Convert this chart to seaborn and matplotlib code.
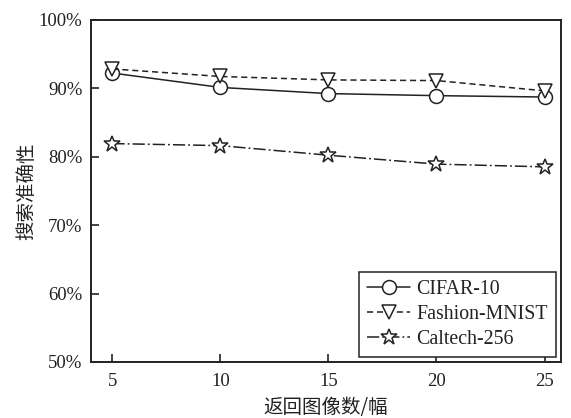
import matplotlib
matplotlib.use("Agg")
import matplotlib.pyplot as plt
import seaborn as sns
import pandas as pd
from matplotlib.ticker import FuncFormatter

# Retrieval accuracy (%) versus number of returned images
returned = [5, 10, 15, 20, 25]
cifar10 = [92.2, 90.1, 89.2, 88.9, 88.7]
fashion_mnist = [92.8, 91.7, 91.2, 91.1, 89.6]
caltech256 = [81.9, 81.6, 80.2, 78.9, 78.5]
series_names = ["CIFAR-10", "Fashion-MNIST", "Caltech-256"]
y_ticks = [50, 60, 70, 80, 90, 100]

sns.set_style("ticks")
plt.rcParams["font.family"] = ["Liberation Serif", "Noto Sans CJK SC"]
plt.rcParams["axes.unicode_minus"] = False

ink = "#222222"
fig = plt.figure(figsize=(5.71, 4.18), dpi=100)
ax = fig.add_axes([0.159, 0.134, 0.823, 0.819])

styles = [
    dict(marker="o", linestyle="-", markersize=10),
    dict(marker="v", linestyle=(0, (4, 2.5)), markersize=10.5),
    dict(marker="*", linestyle=(0, (8, 2, 1.2, 2)), markersize=12),
]
for name, vals, st in zip(series_names, [cifar10, fashion_mnist, caltech256], styles):
    df = pd.DataFrame({"x": returned, "y": vals})
    sns.lineplot(data=df, x="x", y="y", ax=ax, color=ink, linewidth=1.1,
                 markerfacecolor="white", markeredgecolor=ink,
                 markeredgewidth=1.1, label=name, **st)

ax.set_xlim(4.0, 25.75)
ax.set_ylim(50, 100)
ax.set_xticks(returned)
ax.set_yticks(y_ticks)
ax.yaxis.set_major_formatter(FuncFormatter(lambda v, p: f"{v:.0f}%"))
ax.tick_params(direction="in", length=6, width=1.2, labelsize=13.5, colors=ink)
ax.tick_params(axis="y", pad=6)
ax.tick_params(axis="x", pad=8)
for sp in ax.spines.values():
    sp.set_linewidth(1.4)
    sp.set_color(ink)

ax.set_xlabel("返回图像数/幅", family=["Noto Sans CJK SC"], fontsize=14, color=ink, labelpad=5)
ax.set_ylabel("搜索准确性", family=["Noto Sans CJK SC"], fontsize=14, color=ink, labelpad=1)

leg = ax.legend(loc="lower right", fontsize=14.3, frameon=True, fancybox=False,
                edgecolor=ink, framealpha=1, borderpad=0.4, handlelength=2.2,
                handletextpad=0.3, labelspacing=0.3, borderaxespad=0.25)
leg.get_frame().set_linewidth(1.1)
for t in leg.get_texts():
    t.set_color(ink)

fig.savefig("out.png", dpi=100)
